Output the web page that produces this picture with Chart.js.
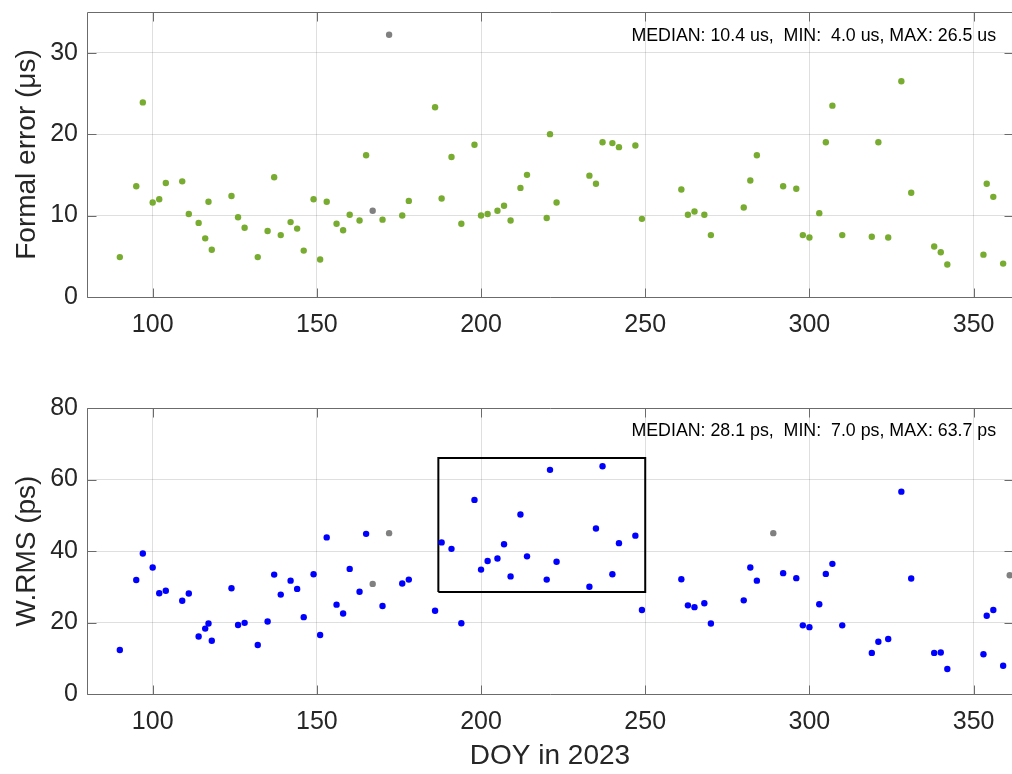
<!DOCTYPE html>
<html>
<head>
<meta charset="utf-8">
<script src="https://cdn.jsdelivr.net/npm/chart.js@4.4.1/dist/chart.umd.min.js"></script>
<style>
  html, body { margin: 0; padding: 0; background: #fff; overflow: hidden; }
  .panel { position: absolute; left: 0; width: 1020px; }
  #top-panel { top: 0; height: 340px; }
  #bottom-panel { top: 380px; height: 394px; }
</style>
</head>
<body>
<div class="panel" id="top-panel"><canvas id="formal-canvas"></canvas></div>
<div class="panel" id="bottom-panel"><canvas id="wrms-canvas"></canvas></div>
<script>
// day of year of each session (kept ones)
const doy = [90, 95, 97, 100, 102, 104, 109, 111, 114, 116,
  117, 118, 124, 126, 128, 132, 135, 137, 139, 142,
  144, 146, 149, 151, 153, 156, 158, 160, 163, 165,
  170, 176, 178, 186, 188, 191, 194, 198, 200, 202,
  205, 207, 209, 212, 214, 220, 221, 223, 233, 235,
  237, 240, 242, 247, 249, 261, 263, 265, 268, 270,
  280, 282, 284, 292, 296, 298, 300, 303, 305, 307,
  310, 319, 321, 324, 328, 331, 338, 340, 342, 353,
  354, 356, 359];

// formal error in us
const formalError = [4.9, 13.6, 23.9, 11.6, 12.0, 14.0, 14.2, 10.2, 9.1, 7.2,
  11.7, 5.8, 12.4, 9.8, 8.5, 4.9, 8.1, 14.7, 7.6, 9.2,
  8.4, 5.7, 12.0, 4.6, 11.7, 9.0, 8.2, 10.1, 9.4, 17.4,
  9.5, 10.0, 11.8, 23.3, 12.1, 17.2, 9.0, 18.7, 10.0, 10.2,
  10.6, 11.2, 9.4, 13.4, 15.0, 9.7, 20.0, 11.6, 14.9, 13.9,
  19.0, 18.9, 18.4, 18.6, 9.6, 13.2, 10.1, 10.5, 10.1, 7.6,
  11.0, 14.3, 17.4, 13.6, 13.3, 7.6, 7.3, 10.3, 19.0, 23.5,
  7.6, 7.4, 19.0, 7.3, 26.5, 12.8, 6.2, 5.5, 4.0, 5.2,
  13.9, 12.3, 4.1];

// weighted RMS in ps
const wrms = [12.3, 31.9, 39.3, 35.4, 28.2, 28.9, 26.1, 28.1, 16.1, 18.3,
  19.7, 14.9, 29.6, 19.3, 19.9, 13.7, 20.3, 33.4, 27.8, 31.7,
  29.4, 21.5, 33.5, 16.5, 43.8, 25.0, 22.5, 35.0, 28.6, 44.8,
  24.6, 30.9, 32.0, 23.3, 42.4, 40.6, 19.8, 54.3, 34.8, 37.2,
  37.9, 41.9, 32.9, 50.2, 38.5, 32.0, 62.7, 37.0, 30.0, 46.3,
  63.7, 33.5, 42.2, 44.3, 23.5, 32.1, 24.8, 24.3, 25.4, 19.7,
  26.2, 35.4, 31.7, 33.8, 32.4, 19.2, 18.7, 25.1, 33.6, 36.4,
  19.2, 11.5, 14.6, 15.4, 56.6, 32.3, 11.5, 11.6, 7.0, 11.1,
  21.9, 23.5, 7.9];

// rejected sessions (grey)
const rejectedDoy = [167, 172, 289, 361];
const rejectedFormal = [10.6, 32.2, null, null];
const rejectedWrms = [30.8, 45.0, 45.0, 33.2];

// highlighted window in the W.RMS panel
const boxDoy = [187, 250, 250, 187, 187];
const boxWrms = [28.5, 28.5, 66, 66, 28.5];

const doyTicks = [100, 150, 200, 250, 300, 350];
const formalTicks = [0, 10, 20, 30];
const wrmsTicks = [0, 20, 40, 60, 80];

const formalStats = "MEDIAN: 10.4 us,  MIN:  4.0 us, MAX: 26.5 us";
const wrmsStats = "MEDIAN: 28.1 ps,  MIN:  7.0 ps, MAX: 63.7 ps";

const FONT = '"Liberation Sans", Arial, Helvetica, sans-serif';
const INK = '#262626';

function toPoints(xs, ys) {
  return xs.map((v, i) => ({ x: v, y: ys[i] })).filter(p => p.y !== null);
}

// MATLAB style box with inward ticks + stats text
const axesFrame = {
  id: 'axesFrame',
  afterDatasetsDraw(chart, args, opts) {
    const { ctx, chartArea: a, scales: { x, y } } = chart;
    const L = Math.round(a.left) + 0.5, R = Math.round(a.right) + 0.5;
    const T = Math.round(a.top) + 0.5, B = Math.round(a.bottom) + 0.5;
    ctx.save();
    ctx.strokeStyle = '#6b6b6b';
    ctx.lineWidth = 1;
    ctx.beginPath();
    ctx.rect(L, T, R - L, B - T);
    x.ticks.forEach(t => {
      const px = Math.round(x.getPixelForValue(t.value)) + 0.5;
      ctx.moveTo(px, B); ctx.lineTo(px, B - 9);
      ctx.moveTo(px, T); ctx.lineTo(px, T + 9);
    });
    y.ticks.forEach(t => {
      const py = Math.round(y.getPixelForValue(t.value)) + 0.5;
      ctx.moveTo(L, py); ctx.lineTo(L + 9, py);
      ctx.moveTo(R, py); ctx.lineTo(R - 9, py);
    });
    ctx.stroke();
    if (opts.text) {
      ctx.font = '17.8px ' + FONT;
      ctx.fillStyle = '#000';
      ctx.textAlign = 'left';
      ctx.textBaseline = 'middle';
      ctx.fillText(opts.text, x.getPixelForValue(opts.x), y.getPixelForValue(opts.y));
    }
    ctx.restore();
  }
};

function scatterConfig(o) {
  return {
    type: 'scatter',
    data: { datasets: o.datasets },
    options: {
      responsive: true,
      maintainAspectRatio: false,
      animation: false,
      layout: { padding: { top: o.padTop, right: 7, left: 0, bottom: 0 } },
      plugins: {
        legend: { display: false },
        tooltip: { enabled: false },
        axesFrame: { text: o.text, x: 245.8, y: o.textY },
      },
      scales: {
        x: {
          type: 'linear',
          min: 80,
          max: 362,
          afterBuildTicks: (scale) => { scale.ticks = doyTicks.map(v => ({ value: v })); },
          afterFit: (scale) => { scale.height = o.xHeight; scale.paddingLeft = 0; scale.paddingRight = 0; },
          grid: { color: 'rgba(38,38,38,0.15)', drawTicks: false },
          border: { display: false },
          ticks: { padding: 13, maxRotation: 0, autoSkip: false, color: INK, font: { family: FONT, size: 25 } },
          title: {
            display: !!o.xTitle,
            text: o.xTitle || '',
            color: INK,
            font: { family: FONT, size: 28 },
            padding: { top: 0, bottom: 1 },
          },
        },
        y: {
          type: 'linear',
          min: o.yMin,
          max: o.yMax,
          afterBuildTicks: (scale) => { scale.ticks = o.yTicks.map(v => ({ value: v })); },
          afterFit: (scale) => { scale.width = 87; scale.paddingTop = 0; scale.paddingBottom = 0; },
          grid: { color: 'rgba(38,38,38,0.15)', drawTicks: false },
          border: { display: false },
          ticks: { padding: 9, color: INK, font: { family: FONT, size: 25 } },
          title: {
            display: true,
            text: o.yTitle,
            color: INK,
            font: { family: FONT, size: 28 },
            padding: { top: 10, bottom: 0 },
          },
        },
      },
    },
    plugins: [axesFrame],
  };
}

const formalChart = new Chart(document.getElementById('formal-canvas').getContext('2d'), scatterConfig({
  datasets: [
    {
      label: 'Formal error',
      data: toPoints(doy, formalError),
      backgroundColor: '#77AC30',
      pointRadius: 3.2,
      pointBorderWidth: 0,
    },
    {
      label: 'Rejected',
      data: toPoints(rejectedDoy, rejectedFormal),
      backgroundColor: '#808080',
      pointRadius: 3.2,
      pointBorderWidth: 0,
    },
  ],
  padTop: 12,
  xHeight: 43,
  yMin: 0,
  yMax: 35,
  yTicks: formalTicks,
  yTitle: 'Formal error (μs)',
  text: formalStats,
  textY: 32.1,
}));

const wrmsChart = new Chart(document.getElementById('wrms-canvas').getContext('2d'), scatterConfig({
  datasets: [
    {
      label: 'W.RMS',
      data: toPoints(doy, wrms),
      backgroundColor: '#0000FF',
      pointRadius: 3.2,
      pointBorderWidth: 0,
    },
    {
      label: 'Rejected',
      data: toPoints(rejectedDoy, rejectedWrms),
      backgroundColor: '#808080',
      pointRadius: 3.2,
      pointBorderWidth: 0,
    },
    {
      label: 'Window',
      data: toPoints(boxDoy, boxWrms),
      showLine: true,
      borderColor: '#000000',
      borderWidth: 2,
      pointRadius: 0,
      tension: 0,
    },
  ],
  padTop: 28,
  xHeight: 80,
  yMin: 0,
  yMax: 80,
  yTicks: wrmsTicks,
  yTitle: 'W.RMS (ps)',
  xTitle: 'DOY in 2023',
  text: wrmsStats,
  textY: 73.5,
}));
</script>
</body>
</html>
